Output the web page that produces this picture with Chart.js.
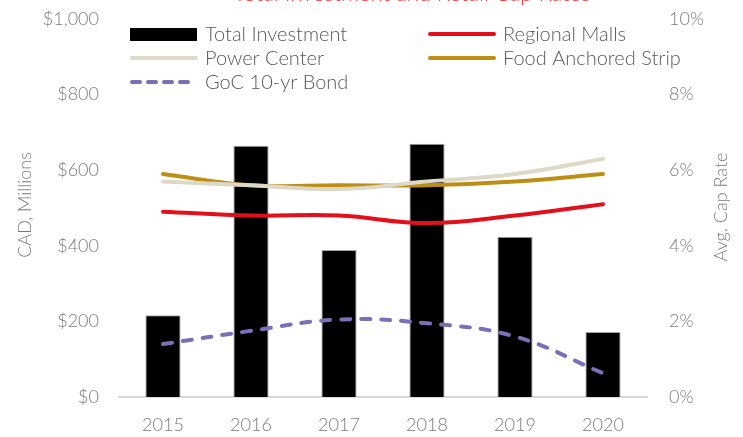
<!DOCTYPE html>
<html lang="en">
<head>
    <meta charset="UTF-8">
    <title>Total Investment and Retail Cap Rates</title>
    <script src="https://cdn.jsdelivr.net/npm/chart.js"></script>
    <style>
        html, body { margin: 0; padding: 0; background: #fff; }
        #wrap { width: 743px; height: 437px; position: relative; }
    </style>
</head>
<body>
    <div id="wrap"><canvas id="myChart" width="743" height="437"></canvas></div>

    <script>
        const years = ['2015', '2016', '2017', '2018', '2019', '2020'];
        const totalInvestment = [216, 665, 389, 670, 424, 172];   // CAD, millions
        const regionalMalls = [4.9, 4.8, 4.8, 4.6, 4.8, 5.1];     // %
        const powerCenter = [5.7, 5.6, 5.5, 5.7, 5.9, 6.3];
        const foodAnchored = [5.9, 5.6, 5.6, 5.6, 5.7, 5.9];
        const gocBond = [1.4, 1.75, 2.05, 1.95, 1.6, 0.63];

        const titleText = 'Total Investment and Retail Cap Rates';
        const FONT = 'Lato, "Noto Sans", sans-serif';
        const GREY = '#7a7a7a';

        // legend drawn in two columns inside the plot
        const legendItems = [
            { text: 'Total Investment', type: 'box', color: '#000000', col: 0, row: 0 },
            { text: 'Regional Malls', type: 'line', color: '#e3101c', col: 1, row: 0 },
            { text: 'Power Center', type: 'line', color: '#ddd8c8', col: 0, row: 1 },
            { text: 'Food Anchored Strip', type: 'line', color: '#bd8e14', col: 1, row: 1 },
            { text: 'GoC 10-yr Bond', type: 'dash', color: '#7a70b8', col: 0, row: 2 }
        ];

        function verticalText(c, text, x, y) {
            c.save();
            c.translate(x, y);
            c.rotate(-Math.PI / 2);
            c.textAlign = 'center';
            c.textBaseline = 'middle';
            c.fillText(text, 0, 0);
            c.restore();
        }

        const extrasPlugin = {
            id: 'extras',
            afterDraw(chart) {
                const c = chart.ctx;
                c.save();
                // title, mostly above the top edge
                c.fillStyle = '#ec3b3f';
                c.font = '300 22px ' + FONT;
                c.textAlign = 'center';
                c.textBaseline = 'alphabetic';
                c.fillText(titleText, 412, 1);

                // axis titles, both reading upwards
                c.fillStyle = GREY;
                c.font = '300 18px ' + FONT;
                verticalText(c, 'CAD, Millions', 25, 205);
                verticalText(c, 'Avg. Cap Rate', 721, 207);

                c.font = '300 20px ' + FONT;
                c.textAlign = 'left';
                c.textBaseline = 'middle';
                legendItems.forEach(it => {
                    const x = it.col === 0 ? 130 : 428;
                    const y = 34 + it.row * 24;
                    if (it.type === 'box') {
                        c.fillStyle = it.color;
                        c.fillRect(x, y - 6, 67, 13);
                    } else {
                        c.strokeStyle = it.color;
                        c.lineWidth = 4;
                        c.lineCap = 'round';
                        c.setLineDash(it.type === 'dash' ? [8, 8] : []);
                        c.beginPath();
                        c.moveTo(x + 2, y);
                        c.lineTo(x + 66, y);
                        c.stroke();
                        c.setLineDash([]);
                    }
                    c.fillStyle = '#595959';
                    c.fillText(it.text, x + 75, y + 1);
                });
                c.restore();
            }
        };

        const lineStyle = (label, data, color, extra) => Object.assign({
            type: 'line',
            label: label,
            data: data,
            yAxisID: 'y1',
            borderColor: color,
            backgroundColor: color,
            borderWidth: 4,
            pointRadius: 0,
            tension: 0.4,
            fill: false,
            borderCapStyle: 'round'
        }, extra || {});

        const tickFont = { family: FONT, size: 18, weight: 300 };

        // fixed box sizes so the plot area lands at x 119..647, y 19..397
        const fitLeft = s => { s.width = 119; s.paddingTop = 0; s.paddingBottom = 0; };
        const fitRight = s => { s.width = 96; s.paddingTop = 0; s.paddingBottom = 0; };

        const ctx = document.getElementById('myChart').getContext('2d');
        const myChart = new Chart(ctx, {
            data: {
                labels: years,
                datasets: [
                    lineStyle('GoC 10-yr Bond', gocBond, '#7a70b8', { borderDash: [9, 11] }),
                    lineStyle('Regional Malls', regionalMalls, '#e3101c'),
                    lineStyle('Power Center', powerCenter, '#ddd8c8'),
                    lineStyle('Food Anchored Strip', foodAnchored, '#bd8e14'),
                    {
                        type: 'bar',
                        label: 'Total Investment',
                        data: totalInvestment,
                        yAxisID: 'y',
                        backgroundColor: '#000000',
                        borderColor: '#a6a6a6',
                        borderWidth: 1,
                        categoryPercentage: 1,
                        barPercentage: 0.4,
                        order: 10
                    }
                ]
            },
            options: {
                responsive: false,
                animation: false,
                layout: { padding: { top: 19, bottom: 0, left: 0, right: 0 } },
                plugins: {
                    legend: { display: false },
                    tooltip: { enabled: false }
                },
                scales: {
                    x: {
                        grid: { display: false, drawTicks: false },
                        border: { color: '#d9d9d9', width: 2 },
                        ticks: { color: GREY, font: tickFont, padding: 17 },
                        afterFit: s => { s.height = 40; s.paddingLeft = 0; s.paddingRight = 0; }
                    },
                    y: {
                        position: 'left',
                        min: 0, max: 1000,
                        grid: { display: false, drawTicks: false },
                        border: { display: false },
                        ticks: {
                            stepSize: 200,
                            color: GREY,
                            padding: 20,
                            font: tickFont,
                            callback: v => '$' + v.toLocaleString('en-US')
                        },
                        afterFit: fitLeft
                    },
                    y1: {
                        position: 'right',
                        min: 0, max: 10,
                        grid: { display: false, drawTicks: false },
                        border: { display: false },
                        ticks: {
                            stepSize: 2,
                            color: GREY,
                            padding: 22,
                            font: tickFont,
                            callback: v => v + '%'
                        },
                        afterFit: fitRight
                    }
                }
            },
            plugins: [extrasPlugin]
        });
    </script>
</body>
</html>
